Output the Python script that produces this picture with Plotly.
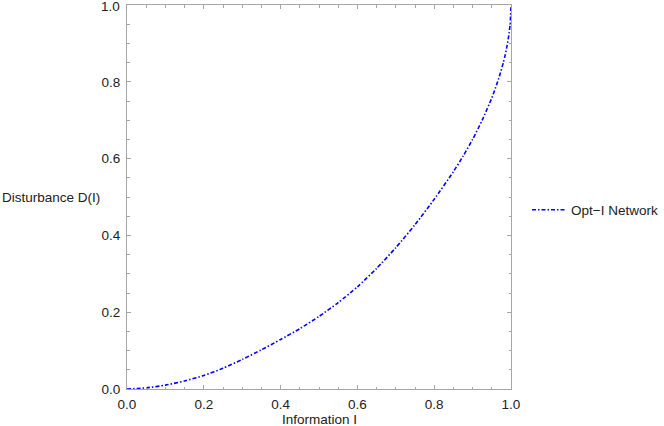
import plotly.graph_objects as go

# values
information = [0.0, 0.05, 0.1, 0.15, 0.2, 0.25, 0.3, 0.35, 0.4, 0.45, 0.5, 0.55,
               0.6, 0.65, 0.7, 0.75, 0.8, 0.85, 0.875, 0.9, 0.925, 0.95, 0.96,
               0.97, 0.98, 0.985, 0.99, 0.995, 0.998, 1.0]
disturbance = [0.0, 0.003, 0.010, 0.021, 0.035, 0.054, 0.077, 0.102, 0.129, 0.157,
               0.189, 0.225, 0.266, 0.314, 0.368, 0.428, 0.494, 0.566, 0.606, 0.65,
               0.70, 0.758, 0.785, 0.815, 0.85, 0.87, 0.895, 0.926, 0.953, 1.0]
series_name = "Opt\u2212I Network"
tick_vals = [0.0, 0.2, 0.4, 0.6, 0.8, 1.0]
tick_text = ["0.0", "0.2", "0.4", "0.6", "0.8", "1.0"]
minor_vals = [0.05, 0.1, 0.15, 0.25, 0.3, 0.35, 0.45, 0.5, 0.55,
              0.65, 0.7, 0.75, 0.85, 0.9, 0.95]

axis_grey = "#a6a6a6"
font = dict(family="Liberation Sans, Arial, sans-serif", size=13.5, color="#222222")

fig = go.Figure()
fig.add_trace(go.Scatter(
    x=information, y=disturbance, mode="lines", name=series_name,
    line=dict(color="#0000ff", width=1.6, dash="4px,2px,1.5px,2px",
              shape="spline", smoothing=0.6),
))

axis_common = dict(
    range=[-1e-5, 1 + 1e-5], tickmode="array", tickvals=tick_vals,
    showgrid=False, zeroline=False, showline=True, linecolor=axis_grey,
    linewidth=1, mirror="ticks", ticks="inside", ticklen=4, tickwidth=1,
    tickcolor=axis_grey, tickfont=font, ticklabelstandoff=3,
    minor=dict(tickmode="array", tickvals=minor_vals, ticks="inside",
               ticklen=2.5, tickcolor=axis_grey, showgrid=False),
)
fig.update_xaxes(ticktext=tick_text, **axis_common)
# the top y label sits on the page edge, where plotly drops it, so it is
# written as an annotation instead
fig.update_yaxes(ticktext=tick_text[:-1] + [""], **axis_common)
fig.add_annotation(text=tick_text[-1], xref="paper", yref="y",
                   x=0, y=tick_vals[-1], xanchor="right", yanchor="middle",
                   xshift=-5, yshift=-1, showarrow=False, font=font)

fig.add_annotation(text="Information I", xref="paper", yref="paper",
                   x=0.5, y=-0.055, xanchor="center", yanchor="top",
                   showarrow=False, font=font)
fig.add_annotation(text="Disturbance D(I)", xref="paper", yref="paper",
                   x=-0.331, y=0.5, xanchor="left", yanchor="middle",
                   showarrow=False, font=font)

fig.update_layout(
    width=664, height=426,
    margin=dict(l=127, r=153, t=5, b=37, autoexpand=False),
    plot_bgcolor="white", paper_bgcolor="white",
    font=font,
    showlegend=True,
    legend=dict(xref="container", yref="container", x=0.7937, y=0.507,
                xanchor="left", yanchor="middle", itemwidth=34,
                bgcolor="rgba(0,0,0,0)", font=font),
)

# drop the default page margin so the figure sits at the window corner
fig.write_html("out.html", config={"displayModeBar": False},
               post_script="document.body.style.margin='0';")
